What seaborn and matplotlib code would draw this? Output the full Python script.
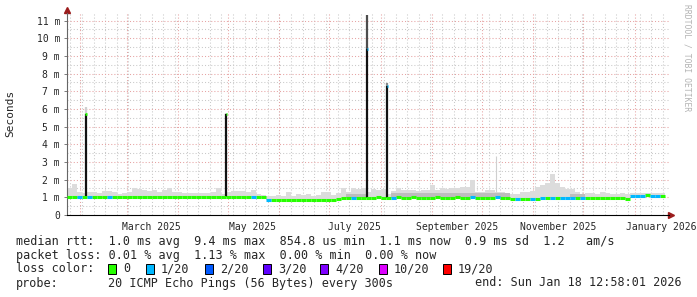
import numpy as np
import pandas as pd
import matplotlib
matplotlib.use("Agg")
import matplotlib.pyplot as plt
import matplotlib.dates as mdates
from matplotlib.patches import Rectangle
import seaborn as sns

# ---------------- data ----------------
view_start = pd.Timestamp("2025-01-24 00:00")
view_end = pd.Timestamp("2026-01-21 16:48")
bin_days = 3

# smoke (max ping rtt) per 3-day bin, in ms
smoke_top = [
    1.5, 1.75, 1.32, 1.25, 1.3, 1.3, 1.25, 1.35, 1.35, 1.3,
    1.2, 1.25, 1.28, 1.5, 1.45, 1.4, 1.35, 1.42, 1.3, 1.4,
    1.55, 1.3, 1.28, 1.25, 1.25, 1.22, 1.25, 1.25, 1.22, 1.3,
    1.5, 1.2, 1.3, 1.35, 1.35, 1.35, 1.3, 1.42, 1.2, 1.15,
    1.05, 1.05, 1.15, 1.1, 1.3, 1.1, 1.2, 1.15, 1.2, 1.1,
    1.15, 1.3, 1.3, 1.15, 1.25, 1.5, 1.3, 1.5, 1.45, 1.5,
    1.3, 1.45, 1.4, 1.45, 1.2, 1.35, 1.5, 1.4, 1.4, 1.4,
    1.35, 1.4, 1.4, 1.7, 1.4, 1.5, 1.45, 1.5, 1.5, 1.6,
    1.6, 2.0, 1.3, 1.3, 1.4, 1.4, 1.3, 1.3, 1.25, 1.2,
    1.2, 1.3, 1.3, 1.35, 1.6, 1.7, 1.8, 2.3, 1.8, 1.6,
    1.45, 1.45, 1.3, 1.2, 1.25, 1.25, 1.2, 1.3, 1.25, 1.2,
    1.2, 1.25, 1.2, 1.25, 1.25, 1.25, 1.25, 1.25, 1.25, 1.25,
]

# median rtt per 3-day bin, in ms
median_rtt = [
    1.04, 1.04, 1.03, 1.04, 1.02, 1.04, 1.03, 1.02, 1.03, 1.04,
    1.03, 1.04, 1.03, 1.04, 1.02, 1.03, 1.04, 1.03, 1.02, 1.04,
    1.04, 1.03, 1.04, 1.04, 1.02, 1.03, 1.04, 1.04, 1.04, 1.04,
    1.03, 1.04, 1.04, 1.04, 1.04, 1.04, 1.04, 1.03, 1.04, 1.04,
    0.87, 0.86, 0.87, 0.87, 0.87, 0.86, 0.87, 0.87, 0.86, 0.87,
    0.87, 0.87, 0.87, 0.87, 0.88, 0.95, 0.95, 0.94, 0.95, 0.95,
    0.99, 0.99, 1.0, 0.99, 0.99, 0.99, 1.0, 0.99, 0.99, 1.0,
    0.99, 0.99, 0.99, 0.99, 1.0, 0.99, 0.99, 0.99, 1.0, 0.99,
    0.99, 1.0, 0.99, 0.99, 0.99, 0.99, 1.0, 0.99, 0.99, 0.91,
    0.9, 0.9, 0.91, 0.9, 0.92, 0.97, 0.98, 0.96, 0.97, 0.96,
    0.96, 0.97, 0.98, 0.99, 0.99, 0.99, 0.99, 0.99, 0.98, 0.99,
    0.94, 0.94, 0.93, 1.1, 1.1, 1.1, 1.11, 1.1, 1.1, 1.1,
]

# loss class per bin (index into loss_labels)
loss_idx = [
    0, 0, 1, 0, 1, 0, 0, 0, 1, 0, 0, 0, 0, 0, 0, 0, 0, 0, 0, 0,
    0, 0, 0, 0, 0, 0, 0, 0, 0, 0, 0, 0, 0, 0, 0, 0, 0, 1, 0, 0,
    1, 0, 0, 0, 0, 0, 0, 0, 0, 0, 0, 0, 0, 0, 0, 0, 0, 1, 0, 0,
    0, 0, 0, 0, 0, 1, 0, 0, 0, 0, 0, 0, 0, 0, 0, 0, 0, 0, 0, 0,
    0, 1, 0, 0, 0, 0, 1, 0, 0, 0, 1, 0, 0, 1, 0, 1, 0, 1, 0, 1,
    1, 1, 0, 1, 0, 0, 0, 0, 0, 0, 0, 0, 0, 1, 1, 1, 0, 1, 1, 0,
]

# darker smoke bands
dark_start = ["2025-07-11", "2025-08-07", "2025-11-23"]
dark_end = ["2025-07-23", "2025-10-18", "2025-12-02"]
dark_top = [1.2, 1.26, 1.2]

# isolated high-latency events
spike_times = ["2025-02-04 11:00", "2025-04-30 02:00", "2025-07-24 00:00", "2025-08-05 00:00"]
spike_base = [1.04, 1.04, 0.99, 0.99]
spike_median = [5.7, 5.7, 9.4, 7.3]
spike_smoke = [6.1, 5.75, 11.3, 7.45]
spike_loss = [0, 0, 1, 1]

thin_spike_times = ["2025-10-09 12:00"]
thin_spike_top = [3.35]

loss_labels = ["0", "1/20", "2/20", "3/20", "4/20", "10/20", "19/20"]
loss_colors = ["#26ff00", "#00b8ff", "#0059ff", "#5e00ff", "#7e00ff", "#dd00ff", "#ff0000"]

y_ticks = list(range(12))
y_tick_labels = ["0"] + [f"{v} m" for v in range(1, 12)]
x_tick_dates = ["2025-03-16", "2025-05-16", "2025-07-16", "2025-09-16", "2025-11-16", "2026-01-17"]
x_tick_labels = ["March 2025", "May 2025", "July 2025", "September 2025", "November 2025", "January 2026"]

rtt_stats = [("1.0 ms", "avg"), ("9.4 ms", "max"), ("854.8 us", "min"), ("1.1 ms", "now"), ("0.9 ms", "sd"), ("1.2 ", " am/s")]
loss_stats = [("0.01 %", "avg"), ("1.13 %", "max"), ("0.00 %", "min"), ("0.00 %", "now")]
probe_text = "20 ICMP Echo Pings (56 Bytes) every 300s"
end_text = "end: Sun Jan 18 12:58:01 2026"

# ---------------- style ----------------
sns.set_style("white")
plt.rcParams["font.family"] = ["DejaVu Sans Mono"]
plt.rcParams["axes.unicode_minus"] = False

W, H = 697, 297
fig = plt.figure(figsize=(W / 100, H / 100), dpi=100)
fig.patch.set_facecolor("white")
ax_l, ax_r, ax_b, ax_t = 67, 669, 215, 13
ax = fig.add_axes([ax_l / W, 1 - ax_b / H, (ax_r - ax_l) / W, (ax_b - ax_t) / H])
ax.set_facecolor("white")
ymax = 11.43
ax.set_ylim(0, ymax)
ax.set_xlim(mdates.date2num(view_start), mdates.date2num(view_end))

# grid
weeks = pd.date_range("2025-01-26", "2026-01-18", freq="W-SUN")
months = pd.date_range("2025-02-01", "2026-01-01", freq="MS")
dot = (0, (1, 2))
ax.vlines(mdates.date2num(weeks), 0, ymax, colors="#c9c9c9", linestyles=[dot], lw=0.75, zorder=0.5)
ax.hlines(np.arange(0.5, 11.5, 1.0), *ax.get_xlim(), colors="#c9c9c9", linestyles=[dot], lw=0.75, zorder=0.5)
ax.vlines(mdates.date2num(months), 0, ymax, colors="#e6a3a3", linestyles=[dot], lw=0.75, zorder=0.6)
ax.hlines(np.arange(1, 12), *ax.get_xlim(), colors="#e6a3a3", linestyles=[dot], lw=0.75, zorder=0.6)

# smoke
n = len(median_rtt)
edges = view_start + pd.to_timedelta(np.arange(n + 1) * bin_days, unit="D")
ex = mdates.date2num(edges)
med_arr = np.array(median_rtt)
smk_arr = np.array(smoke_top)
ax.fill_between(ex, np.append(med_arr, med_arr[-1]), np.append(smk_arr, smk_arr[-1]),
                step="post", color="#dcdcdc", lw=0, zorder=2)
for ds, de, dt in zip(dark_start, dark_end, dark_top):
    m = (edges[:-1] >= pd.Timestamp(ds)) & (edges[:-1] < pd.Timestamp(de))
    idx = np.where(m)[0]
    if len(idx):
        xs = ex[idx[0]: idx[-1] + 2]
        lo = np.append(med_arr[idx], med_arr[idx[-1]])
        hi = np.full(len(xs), dt)
        ax.fill_between(xs, lo, hi, step="post", color="#bdbdbd", lw=0, zorder=2.1)

for t, top in zip(thin_spike_times, thin_spike_top):
    ax.vlines(mdates.date2num(pd.Timestamp(t)), 1.3, top, colors="#cfcfcf", lw=0.8, zorder=2)

# spikes
upper_cols = ["#d0d0d0", "#cfcfcf", "#4d4d4d", "#8a8a8a"]
for t, b, md, sm, ls, uc in zip(spike_times, spike_base, spike_median, spike_smoke, spike_loss, upper_cols):
    tx = mdates.date2num(pd.Timestamp(t))
    ax.vlines(tx, md, sm, colors=uc, lw=1.6, zorder=3)
    ax.vlines(tx, b, md, colors="#111111", lw=1.6, zorder=3)
    ax.hlines(md, tx - 0.45, tx + 0.45, colors=loss_colors[ls], lw=2.0, zorder=4)

# median line, coloured by loss (seaborn)
rows = []
for i in range(n):
    lab = loss_labels[loss_idx[i]]
    rows.append(dict(t=edges[i], y=median_rtt[i], seg=i, loss=lab))
    rows.append(dict(t=edges[i + 1], y=median_rtt[i], seg=i, loss=lab))
df = pd.DataFrame(rows)
sns.lineplot(data=df, x="t", y="y", units="seg", estimator=None, hue="loss",
             palette=dict(zip(loss_labels, loss_colors)), lw=2.2, legend=False,
             ax=ax, zorder=5, solid_capstyle="butt")
ax.set_ylim(0, ymax)
ax.set_xlim(mdates.date2num(view_start), mdates.date2num(view_end))

# axes
for s in ["top", "right"]:
    ax.spines[s].set_visible(False)
ax.spines["left"].set_color("#666666")
ax.spines["left"].set_linewidth(0.8)
ax.spines["bottom"].set_color("#000000")
ax.spines["bottom"].set_linewidth(0.8)
ax.set_yticks(y_ticks)
ax.set_yticklabels(y_tick_labels, fontsize=7)
ax.set_xticks(mdates.date2num(pd.to_datetime(x_tick_dates)))
ax.set_xticklabels(x_tick_labels, fontsize=7)
ax.tick_params(axis="y", length=2, width=0.6, color="#666666", pad=3, left=True)
ax.tick_params(axis="x", length=0, pad=5, bottom=True)
ax.set_xlabel("")
ax.set_ylabel("")
ax.plot([0], [1.0 + 3 / 202], marker="^", color="#9b1c1c", ms=4, transform=ax.transAxes, clip_on=False)
ax.plot([1.004], [0], marker=">", color="#9b1c1c", ms=4, transform=ax.transAxes, clip_on=False)

# texts
def fx(px):
    return px / W

def fy(py):
    return 1 - py / H

fig.text(fx(10), fy(113), "Seconds", rotation=90, ha="center", va="center", fontsize=8)
fig.text(fx(687), fy(4), "RRDTOOL / TOBI OETIKER", rotation=270, ha="center", va="top",
         fontsize=5.8, color="#b3b3b3")

fs = 8.5
rtt_line = "median rtt:  " + "  ".join(f"{v} {k}" for v, k in rtt_stats)
loss_line = "packet loss: " + "  ".join(f"{v} {k}" for v, k in loss_stats)
fig.text(fx(16), fy(241), rtt_line, ha="left", va="center", fontsize=fs)
fig.text(fx(16), fy(255), loss_line, ha="left", va="center", fontsize=fs)
fig.text(fx(16), fy(269), "loss color:", ha="left", va="center", fontsize=fs)
box_px = [108, 146, 205, 263, 320, 379, 443]
for bx, lab, col in zip(box_px, loss_labels, loss_colors):
    fig.patches.append(Rectangle((fx(bx), fy(274)), 8 / W, 10 / H, transform=fig.transFigure,
                                 facecolor=col, edgecolor="black", lw=0.7))
    fig.text(fx(bx + 15), fy(269), lab, ha="left", va="center", fontsize=fs)
fig.text(fx(16), fy(283), "probe:", ha="left", va="center", fontsize=fs)
fig.text(fx(108), fy(283), probe_text, ha="left", va="center", fontsize=fs)
fig.text(fx(682), fy(283), end_text, ha="right", va="center", fontsize=fs)

fig.savefig("out.png", dpi=100, facecolor="white")
